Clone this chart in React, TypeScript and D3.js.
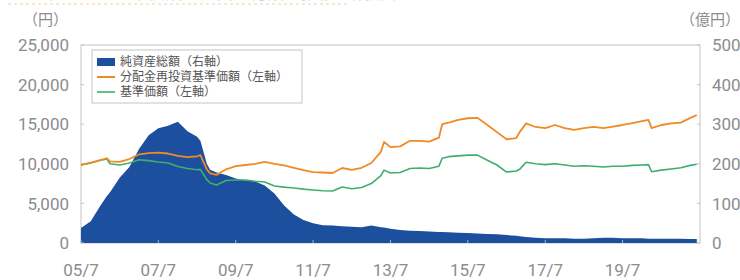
import React from "react";
import * as d3 from "d3";

const dates = [
  "2005-07", "2005-10", "2006-01", "2006-03", "2006-04", "2006-07", "2006-10",
  "2007-01", "2007-04", "2007-07", "2007-10", "2008-01", "2008-04", "2008-07",
  "2008-08", "2008-10", "2008-11", "2009-01", "2009-04", "2009-07", "2009-10",
  "2010-01", "2010-04", "2010-07", "2010-10", "2011-01", "2011-04", "2011-07",
  "2011-10", "2012-01", "2012-04", "2012-07", "2012-10", "2013-01", "2013-04",
  "2013-05", "2013-07", "2013-10", "2014-01", "2014-04", "2014-07", "2014-10",
  "2014-11", "2015-01", "2015-04", "2015-07", "2015-10", "2016-01", "2016-04",
  "2016-07", "2016-10", "2016-11", "2017-01", "2017-04", "2017-07", "2017-10",
  "2018-01", "2018-04", "2018-07", "2018-10", "2019-01", "2019-04", "2019-07",
  "2019-10", "2020-01", "2020-03", "2020-04", "2020-07", "2020-10", "2021-01",
  "2021-04", "2021-06",
];

// 分配金再投資基準価額 (円)
const reinvested = [
  9850, 10150, 10480, 10700, 10300, 10250, 10600,
  11200, 11350, 11400, 11300, 11000, 10850, 10950,
  11100, 9300, 8800, 8600, 9300, 9700, 9850,
  10000, 10230, 10000, 9800, 9500, 9200, 8950,
  8900, 8840, 9470, 9220, 9500, 10100, 11500,
  12750, 12100, 12200, 12900, 12900, 12800, 13300,
  15000, 15200, 15550, 15750, 15800, 14900, 14000,
  13100, 13250, 14000, 15100, 14650, 14500, 14900,
  14500, 14270, 14500, 14650, 14500, 14700, 14900,
  15150, 15400, 15550, 14500, 14900, 15100, 15200,
  15800, 16150,
];

// 基準価額 (円)
const nav = [
  9850, 10100, 10450, 10600, 10000, 9850, 10100,
  10500, 10400, 10230, 10100, 9650, 9400, 9250,
  9300, 8000, 7580, 7320, 7900, 7950, 7950,
  7800, 7700, 7200, 7050, 6950, 6800, 6690,
  6600, 6570, 7070, 6850, 7000, 7500, 8500,
  9200, 8840, 8900, 9400, 9470, 9400, 9700,
  10700, 10900, 11000, 11100, 11100, 10450, 9850,
  8960, 9100, 9300, 10200, 10000, 9900, 10000,
  9850, 9700, 9750, 9700, 9600, 9700, 9700,
  9800, 9850, 9900, 9000, 9200, 9350, 9500,
  9800, 9950,
];

// 純資産総額 (億円)
const netAssets = [
  38, 55, 95, 118, 128, 165, 192,
  238, 272, 290, 296, 306, 282, 268,
  258, 200, 185, 178, 172, 163, 158,
  155, 145, 125, 95, 72, 58, 50,
  45, 44, 42, 41, 40, 44, 40,
  39, 36, 33, 31, 30, 29, 28,
  28, 27, 26, 25, 24, 23, 22,
  20, 18, 17, 15, 13, 12, 12,
  12, 11, 11, 12, 13, 13, 12,
  12, 12, 11, 11, 11, 11, 11,
  10, 10,
];

const leftTicks = [0, 5000, 10000, 15000, 20000, 25000];
const rightTicks = [0, 100, 200, 300, 400, 500];
const xTickDates = ["2005-07", "2007-07", "2009-07", "2011-07", "2013-07", "2015-07", "2017-07", "2019-07"];
const xTickLabels = ["05/7", "07/7", "09/7", "11/7", "13/7", "15/7", "17/7", "19/7"];
const legendLabels = ["純資産総額（右軸）", "分配金再投資基準価額（左軸）", "基準価額（左軸）"];
const titleText = "■ ファンドの基準価額・純資産総額の推移（設定来）";

const BLUE = "#1d4f9f";
const ORANGE = "#f08a24";
const GREEN = "#3fae6e";
const GRAY = "#8c8c8c";
const AXIS = "#c4c4c4";

export default function App() {
  const W = 740, H = 280;
  const L = 81, R = 700, T = 45, B = 243;
  const parse = d3.timeParse("%Y-%m");
  const pts = dates.map((d) => parse(d) as Date);

  const x = d3.scaleTime().domain([parse("2005-07") as Date, parse("2021-07") as Date]).range([L, R]);
  const yL = d3.scaleLinear().domain([0, 25000]).range([B, T]);
  const yR = d3.scaleLinear().domain([0, 500]).range([B, T]);

  const area = d3.area<number>()
    .x((_, i) => x(pts[i]))
    .y0(yR(0))
    .y1((d) => yR(d));
  const line = d3.line<number>()
    .x((_, i) => x(pts[i]))
    .y((d) => yL(d));

  const numFmt = d3.format(",");
  const tickFont = "Roboto, 'Noto Sans', sans-serif";
  const cjk = "'Noto Sans CJK JP', 'Noto Sans', sans-serif";

  return (
    <div style={{ position: "fixed", left: 0, top: 0 }}>
      <svg width={W} height={H} style={{ display: "block", background: "#fff" }}>
        {/* cropped title remnant (title sits mostly above the picture's top edge) */}
        <text x={8} y={-1} fontFamily={cjk} fontSize={17} fill="#7cc0ea" opacity={0.55}>{titleText}</text>
        <line x1={8} x2={350} y1={4} y2={4} stroke="#f9d2a6" strokeWidth={1.5} strokeDasharray="3,3" opacity={0.7} />

        {/* plot frame */}
        <rect x={L} y={T} width={R - L} height={B - T} fill="none" stroke={AXIS} strokeWidth={1} />

        {/* area */}
        <path d={area(netAssets) || ""} fill={BLUE} />

        {/* ticks */}
        {leftTicks.map((t) => (
          <line key={"lt" + t} x1={L} x2={L + 3} y1={yL(t)} y2={yL(t)} stroke={AXIS} />
        ))}
        {rightTicks.map((t) => (
          <line key={"rt" + t} x1={R - 3} x2={R} y1={yR(t)} y2={yR(t)} stroke={AXIS} />
        ))}
        {xTickDates.map((d) => {
          const xx = x(parse(d) as Date);
          return <line key={"xt" + d} x1={xx} x2={xx} y1={B} y2={B - 3} stroke="#9fb6d8" />;
        })}

        {/* lines */}
        <path d={line(nav) || ""} fill="none" stroke={GREEN} strokeWidth={1.6} strokeLinejoin="round" />
        <path d={line(reinvested) || ""} fill="none" stroke={ORANGE} strokeWidth={1.8} strokeLinejoin="round" />

        {/* left axis labels */}
        {leftTicks.map((t) => (
          <text key={"ll" + t} x={69} y={yL(t)} dy="0.36em" textAnchor="end" fontFamily={tickFont} fontSize={17} fill={GRAY}>
            {numFmt(t)}
          </text>
        ))}
        {/* right axis labels */}
        {rightTicks.map((t) => (
          <text key={"rl" + t} x={712} y={yR(t)} dy="0.36em" textAnchor="start" fontFamily={tickFont} fontSize={17} fill={GRAY}>
            {t}
          </text>
        ))}
        {/* x labels */}
        {xTickDates.map((d, i) => (
          <text key={"xl" + d} x={x(parse(d) as Date)} y={276} textAnchor="middle" fontFamily={tickFont} fontSize={17} fill={GRAY}>
            {xTickLabels[i]}
          </text>
        ))}

        {/* units */}
        <text x={68} y={25} textAnchor="end" fontFamily={cjk} fontSize={15} fill={GRAY}>（円）</text>
        <text x={680} y={25} textAnchor="start" fontFamily={cjk} fontSize={15} fill={GRAY}>（億円）</text>

        {/* legend */}
        <rect x={92} y={50} width={210} height={53} fill="#fff" stroke={AXIS} />
        <rect x={97} y={58} width={18} height={8} fill={BLUE} />
        <line x1={97} x2={115} y1={77} y2={77} stroke={ORANGE} strokeWidth={2} />
        <line x1={97} x2={115} y1={92} y2={92} stroke={GREEN} strokeWidth={1.6} />
        {legendLabels.map((lab, i) => (
          <text key={lab} x={120} y={62 + i * 15} dy="0.35em" fontFamily={cjk} fontSize={12} fill="#555">
            {lab}
          </text>
        ))}
      </svg>
    </div>
  );
}
